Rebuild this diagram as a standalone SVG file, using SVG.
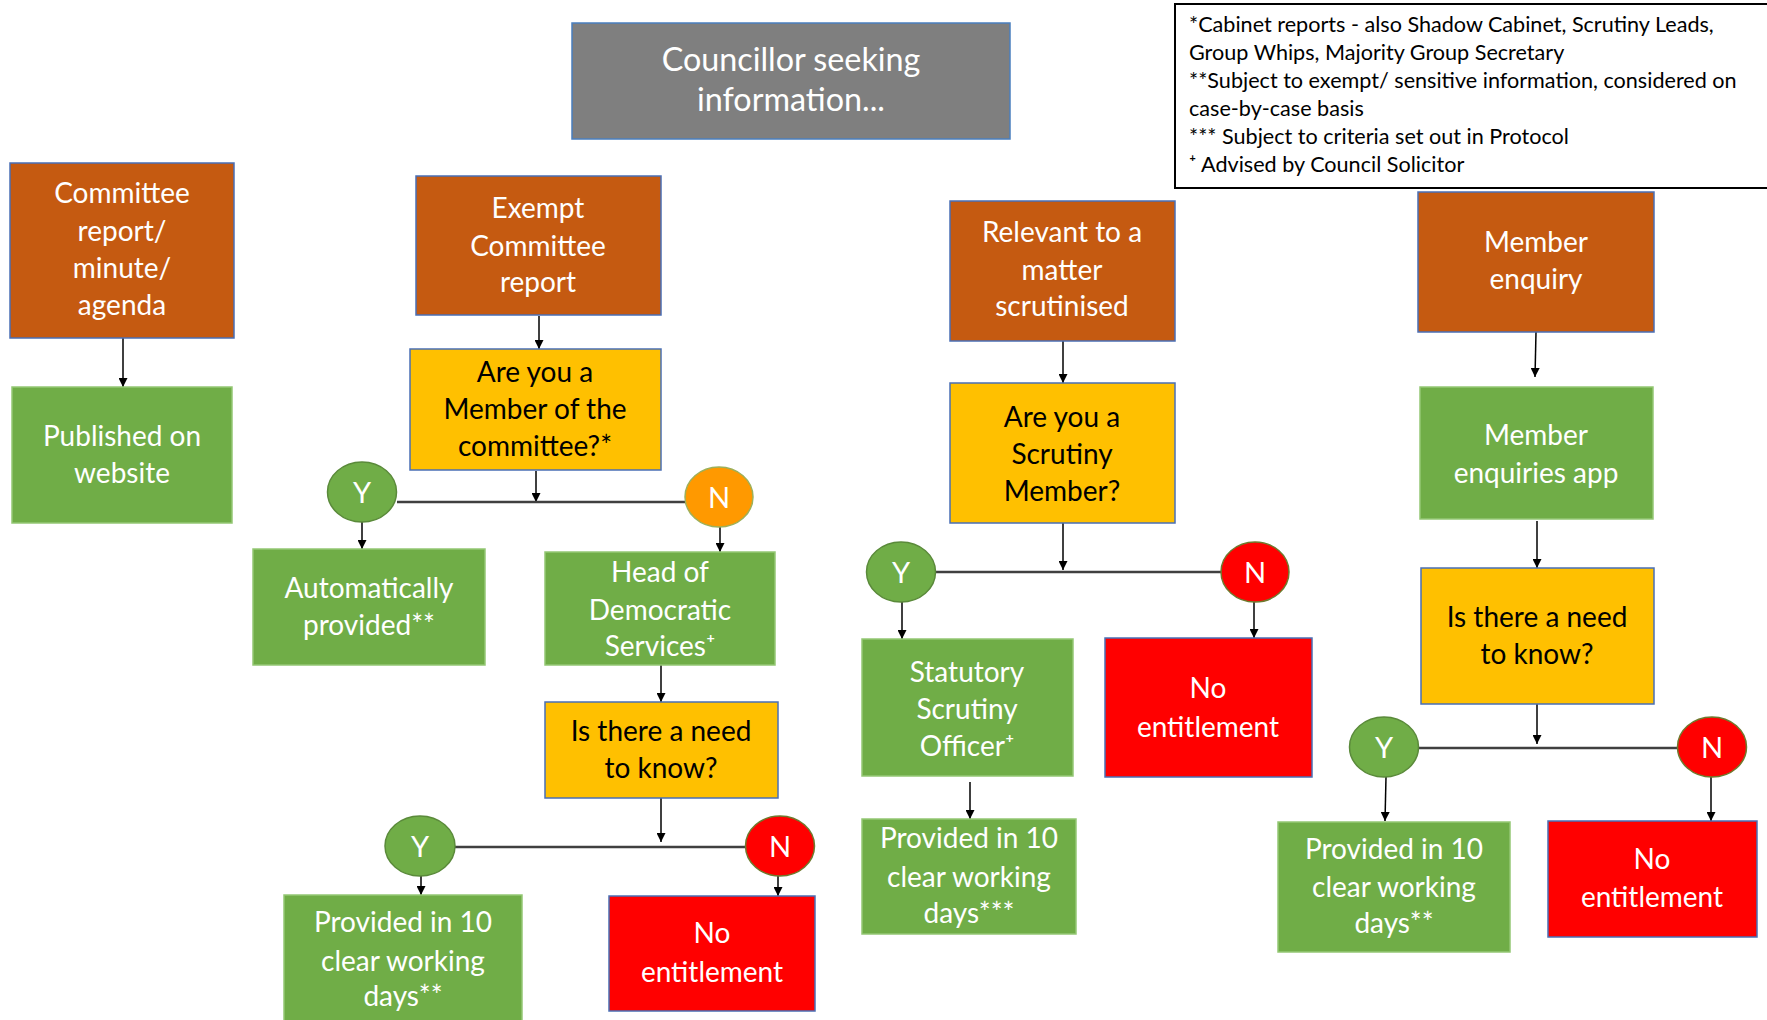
<svg xmlns="http://www.w3.org/2000/svg" width="1767" height="1020" viewBox="0 0 1767 1020">
<defs>
<marker id="ah" viewBox="0 0 10 10" refX="10" refY="5" markerWidth="10" markerHeight="9" markerUnits="userSpaceOnUse" orient="auto"><path d="M0,0 L10,5 L0,10 z" fill="#000"/></marker>
<style>
.o{fill:#C55A11;stroke:#4A6FB5;stroke-width:1.5}
.g{fill:#70AD47;stroke:#94C774;stroke-width:1.5}
.y{fill:#FFC000;stroke:#4A6FB5;stroke-width:1.5}
.r{fill:#FF0000;stroke:#4A6FB5;stroke-width:1.5}
.gr{fill:#7F7F7F;stroke:#4A7FBF;stroke-width:1.5}
.cy{fill:#70AD47;stroke:#5A8A3A;stroke-width:1.5}
.cn{fill:#FF0000;stroke:#6E7A2E;stroke-width:1.5}
.co{fill:#FF9900;stroke:#9DB05A;stroke-width:1.5}
text{font-family:Lato,"Liberation Sans",sans-serif}
.t{font-size:28px;text-anchor:middle;fill:#fff}
.tk{font-size:28px;text-anchor:middle;fill:#000}
.tc{font-size:29px;text-anchor:middle;fill:#fff}
.ti{font-size:32.3px;text-anchor:middle;fill:#fff}
.lg{font-size:21.6px;fill:#000}
.ar{stroke:#000;stroke-width:1.5;fill:none;marker-end:url(#ah)}
.bar{stroke:#404040;stroke-width:2.5;fill:none}
</style>
</defs>
<rect width="1767" height="1020" fill="#fff"/>

<g id="connectors">
<line class="ar" x1="123" y1="338" x2="123" y2="387"/>
<line class="ar" x1="539" y1="316" x2="539" y2="349"/>
<line class="ar" x1="536" y1="471" x2="536" y2="502"/>
<line class="bar" x1="397" y1="502" x2="685" y2="502"/>
<line class="ar" x1="362" y1="522" x2="362" y2="549"/>
<line class="ar" x1="720" y1="527" x2="720" y2="552"/>
<line class="ar" x1="661" y1="665" x2="661" y2="702"/>
<line class="ar" x1="661" y1="798" x2="661" y2="842"/>
<line class="bar" x1="455" y1="847" x2="745" y2="847"/>
<line class="ar" x1="421" y1="876" x2="421" y2="895"/>
<line class="ar" x1="778" y1="876" x2="778" y2="896"/>
<line class="ar" x1="1063" y1="341" x2="1063" y2="383"/>
<line class="ar" x1="1063" y1="523" x2="1063" y2="570"/>
<line class="bar" x1="936" y1="572" x2="1221" y2="572"/>
<line class="ar" x1="902" y1="602" x2="902" y2="639"/>
<line class="ar" x1="1254" y1="602" x2="1254" y2="638"/>
<line class="ar" x1="970" y1="782" x2="970" y2="819"/>
<line class="ar" x1="1536" y1="332" x2="1535" y2="377"/>
<line class="ar" x1="1537" y1="521" x2="1537" y2="568"/>
<line class="ar" x1="1537" y1="704" x2="1537" y2="744"/>
<line class="bar" x1="1418" y1="748" x2="1677" y2="748"/>
<line class="ar" x1="1386" y1="777" x2="1385" y2="821"/>
<line class="ar" x1="1711" y1="777" x2="1711" y2="821"/>
</g>

<g id="title"><rect class="gr" x="572" y="23" width="438" height="116"/>
<text class="ti" x="791" y="71">Councillor seeking</text><text class="ti" x="791" y="111">information...</text></g>

<g id="legend"><rect x="1175" y="4" width="600" height="184" fill="#fff" stroke="#000" stroke-width="2"/>
<text class="lg" x="1189" y="32">*Cabinet reports - also Shadow Cabinet, Scrutiny Leads,</text>
<text class="lg" x="1189" y="60">Group Whips, Majority Group Secretary</text>
<text class="lg" x="1189" y="88">**Subject to exempt/ sensitive information, considered on</text>
<text class="lg" x="1189" y="116">case-by-case basis</text>
<text class="lg" x="1189" y="144">*** Subject to criteria set out in Protocol</text>
<text class="lg" x="1189" y="172">⁺ Advised by Council Solicitor</text></g>

<g id="committee-report"><rect class="o" x="10" y="163" width="224" height="175"/>
<text class="t" x="122" y="203">Committee</text><text class="t" x="122" y="241">report/</text><text class="t" x="122" y="278">minute/</text><text class="t" x="122" y="315">agenda</text></g>

<g id="published"><rect class="g" x="12" y="387" width="220" height="136"/>
<text class="t" x="122" y="446">Published on</text><text class="t" x="122" y="483">website</text></g>

<g id="exempt"><rect class="o" x="416" y="176" width="245" height="139"/>
<text class="t" x="538" y="218">Exempt</text><text class="t" x="538" y="256">Committee</text><text class="t" x="538" y="292">report</text></g>

<g id="member-committee"><rect class="y" x="410" y="349" width="251" height="121"/>
<text class="tk" x="535" y="382">Are you a</text><text class="tk" x="535" y="419">Member of the</text><text class="tk" x="535" y="456">committee?*</text></g>

<g id="y1"><ellipse class="cy" cx="362" cy="492" rx="34.5" ry="30"/><text class="tc" x="362" y="502.5">Y</text></g>
<g id="n1"><ellipse class="co" cx="719" cy="497" rx="34" ry="30"/><text class="tc" x="719" y="507.5">N</text></g>

<g id="auto"><rect class="g" x="253" y="549" width="232" height="116"/>
<text class="t" x="369" y="598">Automatically</text><text class="t" x="369" y="635">provided**</text></g>

<g id="head"><rect class="g" x="545" y="552" width="230" height="113"/>
<text class="t" x="660" y="582">Head of</text><text class="t" x="660" y="620">Democratic</text><text class="t" x="660" y="656">Services⁺</text></g>

<g id="need1"><rect class="y" x="545" y="702" width="233" height="96"/>
<text class="tk" x="661" y="741">Is there a need</text><text class="tk" x="661" y="778">to know?</text></g>

<g id="y2"><ellipse class="cy" cx="420" cy="846" rx="35" ry="30"/><text class="tc" x="420" y="856.5">Y</text></g>
<g id="n2"><ellipse class="cn" cx="780" cy="846" rx="34.5" ry="30"/><text class="tc" x="780" y="856.5">N</text></g>

<g id="provided1"><rect class="g" x="284" y="895" width="238" height="135"/>
<text class="t" x="403" y="932">Provided in 10</text><text class="t" x="403" y="971">clear working</text><text class="t" x="403" y="1006">days**</text></g>

<g id="noent1"><rect class="r" x="609" y="896" width="206" height="115"/>
<text class="t" x="712" y="943">No</text><text class="t" x="712" y="982">entitlement</text></g>

<g id="relevant"><rect class="o" x="950" y="201" width="225" height="140"/>
<text class="t" x="1062" y="242">Relevant to a</text><text class="t" x="1062" y="280">matter</text><text class="t" x="1062" y="316">scrutinised</text></g>

<g id="scrutiny-member"><rect class="y" x="950" y="383" width="225" height="140"/>
<text class="tk" x="1062" y="427">Are you a</text><text class="tk" x="1062" y="464">Scrutiny</text><text class="tk" x="1062" y="501">Member?</text></g>

<g id="y3"><ellipse class="cy" cx="901" cy="572" rx="34.5" ry="30"/><text class="tc" x="901" y="582.5">Y</text></g>
<g id="n3"><ellipse class="cn" cx="1255" cy="572" rx="34" ry="30"/><text class="tc" x="1255" y="582.5">N</text></g>

<g id="statutory"><rect class="g" x="862" y="639" width="211" height="137"/>
<text class="t" x="967" y="682">Statutory</text><text class="t" x="967" y="719">Scrutiny</text><text class="t" x="967" y="756">Officer⁺</text></g>

<g id="noent2"><rect class="r" x="1105" y="638" width="207" height="139"/>
<text class="t" x="1208" y="698">No</text><text class="t" x="1208" y="737">entitlement</text></g>

<g id="provided2"><rect class="g" x="862" y="819" width="214" height="115"/>
<text class="t" x="969" y="848">Provided in 10</text><text class="t" x="969" y="887">clear working</text><text class="t" x="969" y="923">days***</text></g>

<g id="member-enquiry"><rect class="o" x="1418" y="192" width="236" height="140"/>
<text class="t" x="1536" y="252">Member</text><text class="t" x="1536" y="289">enquiry</text></g>

<g id="app"><rect class="g" x="1420" y="387" width="233" height="132"/>
<text class="t" x="1536" y="445">Member</text><text class="t" x="1536" y="483">enquiries app</text></g>

<g id="need2"><rect class="y" x="1421" y="568" width="233" height="136"/>
<text class="tk" x="1537" y="627">Is there a need</text><text class="tk" x="1537" y="664">to know?</text></g>

<g id="y4"><ellipse class="cy" cx="1384" cy="747" rx="34.5" ry="30"/><text class="tc" x="1384" y="757.5">Y</text></g>
<g id="n4"><ellipse class="cn" cx="1712" cy="747" rx="34.5" ry="30"/><text class="tc" x="1712" y="757.5">N</text></g>

<g id="provided3"><rect class="g" x="1278" y="822" width="232" height="130"/>
<text class="t" x="1394" y="859">Provided in 10</text><text class="t" x="1394" y="897">clear working</text><text class="t" x="1394" y="933">days**</text></g>

<g id="noent3"><rect class="r" x="1548" y="821" width="209" height="116"/>
<text class="t" x="1652" y="869">No</text><text class="t" x="1652" y="907">entitlement</text></g>
</svg>
